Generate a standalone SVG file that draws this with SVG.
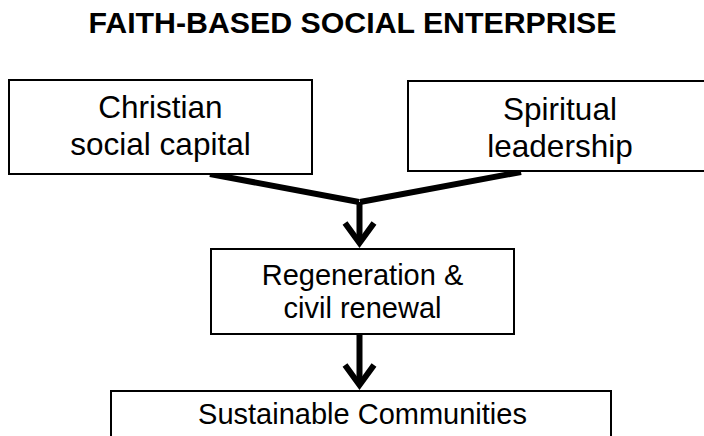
<svg xmlns="http://www.w3.org/2000/svg" width="704" height="436" viewBox="0 0 704 436">
  <style>
    .box { fill: #ffffff; stroke: #000000; stroke-width: 2; }
    .lbl { font-family: "Liberation Sans", Arial, Helvetica, sans-serif; fill: #000000; text-anchor: middle; }
    .big { font-size: 31.5px; }
    .mid { font-size: 29px; }
    .title { font-family: "Liberation Sans", Arial, Helvetica, sans-serif; font-size: 30.3px; font-weight: bold; text-anchor: middle; fill: #000000; }
    .conn { fill: none; stroke: #000000; stroke-width: 6; stroke-linecap: butt; stroke-linejoin: miter; }
  </style>
  <defs>
    <marker id="chev" markerUnits="userSpaceOnUse" viewBox="-30 -20 40 40" refX="0" refY="0" markerWidth="40" markerHeight="40" orient="auto" overflow="visible">
      <path d="M-20,-14.5 L0,0 L-20,14.5" fill="none" stroke="#000000" stroke-width="6" stroke-linejoin="miter"/>
    </marker>
  </defs>

  <text class="title" x="352.5" y="33">FAITH-BASED SOCIAL ENTERPRISE</text>

  <g id="connectors">
    <path class="conn" d="M210,174 L359,202"/>
    <path class="conn" d="M521,172 L360,202"/>
    <path class="conn" d="M359.5,202 L359.5,243" marker-end="url(#chev)"/>
    <path class="conn" d="M359.5,334 L359.5,385" marker-end="url(#chev)"/>
  </g>

  <g id="node-christian">
    <rect class="box" x="9" y="80" width="303" height="94"/>
    <text class="lbl big" x="160.5" y="118">Christian</text>
    <text class="lbl big" x="160.5" y="155">social capital</text>
  </g>

  <g id="node-spiritual">
    <rect class="box" x="408" y="81" width="310" height="90"/>
    <text class="lbl big" x="560" y="120">Spiritual</text>
    <text class="lbl big" x="560" y="157">leadership</text>
  </g>

  <g id="node-regeneration">
    <rect class="box" x="211" y="249" width="303" height="85"/>
    <text class="lbl mid" x="362.5" y="285">Regeneration &amp;</text>
    <text class="lbl mid" x="362.5" y="318">civil renewal</text>
  </g>

  <g id="node-sustainable">
    <rect class="box" x="111" y="391" width="500" height="60"/>
    <text class="lbl mid" x="362.5" y="424">Sustainable Communities</text>
  </g>
</svg>
